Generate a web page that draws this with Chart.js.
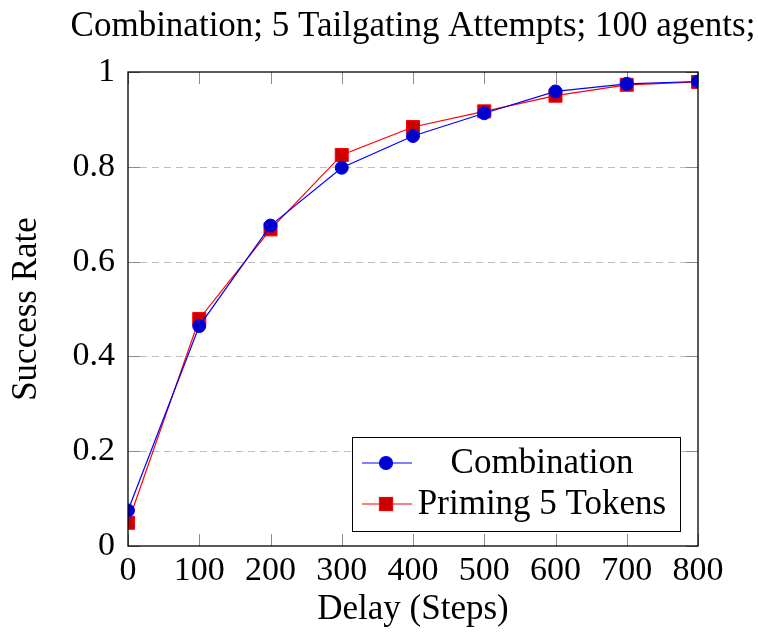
<!DOCTYPE html>
<html lang="en">
<head>
    <meta charset="UTF-8">
    <title>Combination; 5 Tailgating Attempts; 100 agents;</title>
    <style>
        html, body {
            margin: 0;
            padding: 0;
            background: #fff;
        }
        .chart-box {
            width: 758px;
            height: 635px;
        }
    </style>
</head>
<body>

<div class="chart-box">
    <canvas id="chart" width="758" height="635"></canvas>
</div>

<script src="https://cdn.jsdelivr.net/npm/chart.js"></script>
<script>
    // data
    const delays = [0, 100, 200, 300, 400, 500, 600, 700, 800];
    const combination = [0.075, 0.464, 0.676, 0.798, 0.865, 0.913, 0.959, 0.975, 0.980];
    const priming = [0.049, 0.479, 0.668, 0.825, 0.884, 0.917, 0.950, 0.973, 0.979];
    const yTicks = [0, 0.2, 0.4, 0.6, 0.8, 1];
    const xTicks = [0, 100, 200, 300, 400, 500, 600, 700, 800];
    const titleText = 'Combination; 5 Tailgating Attempts; 100 agents;';

    const serif = "'Liberation Serif', 'DejaVu Serif', serif";

    // dashed grid + inward tick marks, pgfplots style
    const frame = {
        id: 'frame',
        beforeDatasetsDraw(chart) {
            const { ctx, chartArea: a, scales: { x, y } } = chart;
            ctx.save();
            ctx.lineWidth = 1;
            ctx.strokeStyle = '#bdbdbd';
            ctx.setLineDash([7, 5]);
            yTicks.forEach(v => {
                if (v === 0 || v === 1) return;
                const py = Math.round(y.getPixelForValue(v)) + 0.5;
                ctx.beginPath();
                ctx.moveTo(a.left, py);
                ctx.lineTo(a.right, py);
                ctx.stroke();
            });
            ctx.setLineDash([]);
            ctx.strokeStyle = '#8c8c8c';
            const len = 12;
            xTicks.forEach(v => {
                const px = Math.round(x.getPixelForValue(v)) + 0.5;
                ctx.beginPath();
                ctx.moveTo(px, a.bottom);
                ctx.lineTo(px, a.bottom - len);
                ctx.moveTo(px, a.top);
                ctx.lineTo(px, a.top + len);
                ctx.stroke();
            });
            yTicks.forEach(v => {
                const py = Math.round(y.getPixelForValue(v)) + 0.5;
                ctx.beginPath();
                ctx.moveTo(a.left, py);
                ctx.lineTo(a.left + len, py);
                ctx.moveTo(a.right, py);
                ctx.lineTo(a.right - len, py);
                ctx.stroke();
            });
            ctx.restore();
        },
        afterDraw(chart) {
            const { ctx, chartArea: a } = chart;
            ctx.save();
            ctx.strokeStyle = '#000';
            ctx.lineWidth = 1.3;
            ctx.strokeRect(a.left, a.top, a.right - a.left, a.bottom - a.top);

            // title centred over the plot box
            ctx.fillStyle = '#000';
            ctx.font = '35px ' + serif;
            ctx.textAlign = 'center';
            ctx.textBaseline = 'alphabetic';
            ctx.fillText(titleText, (a.left + a.right) / 2, 36);

            // legend box in the lower right corner
            const bx = 352, by = 437, bw = 328, bh = 94;
            ctx.fillStyle = '#fff';
            ctx.fillRect(bx, by, bw, bh);
            ctx.lineWidth = 1;
            ctx.strokeRect(bx + 0.5, by + 0.5, bw, bh);

            const rows = [
                { label: 'Combination', line: '#0000ff', fill: '#0000cc', shape: 'circle', cy: by + 26 },
                { label: 'Priming 5 Tokens', line: '#ff0000', fill: '#cc0000', shape: 'rect', cy: by + 67 }
            ];
            ctx.font = '35px ' + serif;
            ctx.textBaseline = 'middle';
            ctx.textAlign = 'center';
            rows.forEach(r => {
                ctx.strokeStyle = r.line;
                ctx.lineWidth = 1.2;
                ctx.beginPath();
                ctx.moveTo(bx + 10, r.cy);
                ctx.lineTo(bx + 60, r.cy);
                ctx.stroke();
                ctx.fillStyle = r.fill;
                if (r.shape === 'circle') {
                    ctx.beginPath();
                    ctx.arc(bx + 34, r.cy, 6.5, 0, Math.PI * 2);
                    ctx.fill();
                    ctx.stroke();
                } else {
                    ctx.fillRect(bx + 27.5, r.cy - 6.5, 13, 13);
                    ctx.strokeRect(bx + 27.5, r.cy - 6.5, 13, 13);
                }
                ctx.fillStyle = '#000';
                ctx.fillText(r.label, bx + 190, r.cy + 1);
            });
            ctx.restore();
        }
    };

    new Chart(document.getElementById('chart'), {
        type: 'line',
        data: {
            datasets: [{
                label: 'Combination',
                data: delays.map((d, i) => ({ x: d, y: combination[i] })),
                borderColor: '#0000ff',
                borderWidth: 1.2,
                pointStyle: 'circle',
                pointRadius: 6.5,
                pointBackgroundColor: '#0000cc',
                pointBorderColor: '#0000ff',
                pointBorderWidth: 1,
                tension: 0
            }, {
                label: 'Priming 5 Tokens',
                data: delays.map((d, i) => ({ x: d, y: priming[i] })),
                borderColor: '#ff0000',
                borderWidth: 1.2,
                pointStyle: 'rect',
                pointRadius: 9.2,
                pointBackgroundColor: '#cc0000',
                pointBorderColor: '#ff0000',
                pointBorderWidth: 1,
                tension: 0
            }]
        },
        options: {
            responsive: false,
            animation: false,
            layout: { padding: { left: 0, right: 60, top: 72, bottom: 0 } },
            plugins: {
                legend: { display: false },
                tooltip: { enabled: false },
                title: { display: false }
            },
            scales: {
                x: {
                    type: 'linear',
                    min: 0,
                    max: 800,
                    afterBuildTicks: s => { s.ticks = xTicks.map(v => ({ value: v })); },
                    afterFit: s => { s.height = 89; },
                    grid: { display: false, drawTicks: false },
                    border: { display: false },
                    ticks: {
                        color: '#000',
                        padding: 5,
                        maxRotation: 0,
                        font: { family: serif, size: 34 }
                    },
                    title: {
                        display: true,
                        text: 'Delay (Steps)',
                        color: '#000',
                        font: { family: serif, size: 35 },
                        padding: { top: 0, bottom: 4 }
                    }
                },
                y: {
                    min: 0,
                    max: 1,
                    afterBuildTicks: s => { s.ticks = yTicks.map(v => ({ value: v })); },
                    afterFit: s => { s.width = 128; },
                    grid: { display: false, drawTicks: false },
                    border: { display: false },
                    ticks: {
                        color: '#000',
                        padding: 13,
                        font: { family: serif, size: 34 },
                        callback: v => String(v)
                    },
                    title: {
                        display: true,
                        text: 'Success Rate',
                        color: '#000',
                        font: { family: serif, size: 35 },
                        padding: { top: 6, bottom: 4 }
                    }
                }
            }
        },
        plugins: [frame]
    });
</script>

</body>
</html>
